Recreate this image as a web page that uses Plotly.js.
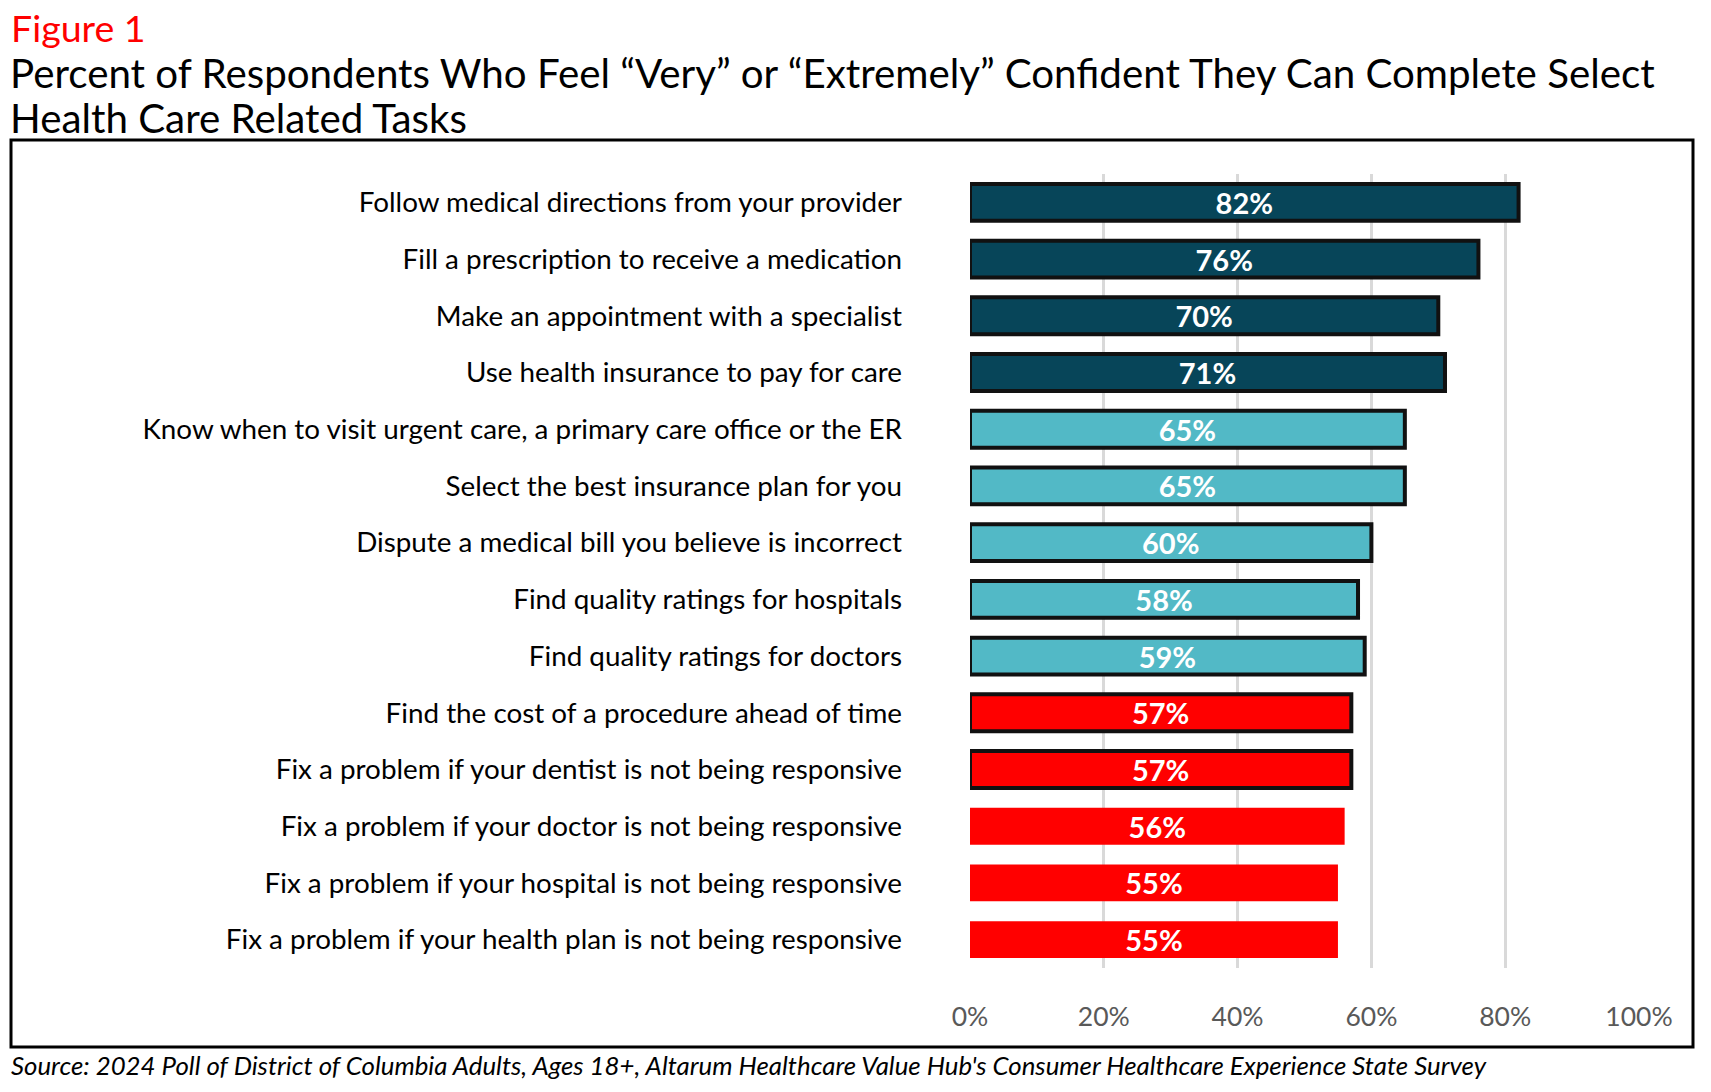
<!DOCTYPE html>
<html>
<head>
<meta charset="utf-8">
<script src="https://cdn.plot.ly/plotly-3.0.1.min.js"></script>
<style>
  html, body { margin: 0; padding: 0; background: #ffffff; }
  #chart { width: 1711px; height: 1092px; }
</style>
</head>
<body>
<div id="chart"></div>
<script>
// ---------- DATA ----------
const tasks = [
  "Follow medical directions from your provider",
  "Fill a prescription to receive a medication",
  "Make an appointment with a specialist",
  "Use health insurance to pay for care",
  "Know when to visit urgent care, a primary care office or the ER",
  "Select the best insurance plan for you",
  "Dispute a medical bill you believe is incorrect",
  "Find quality ratings for hospitals",
  "Find quality ratings for doctors",
  "Find the cost of a procedure ahead of time",
  "Fix a problem if your dentist is not being responsive",
  "Fix a problem if your doctor is not being responsive",
  "Fix a problem if your hospital is not being responsive",
  "Fix a problem if your health plan is not being responsive"
];
const percentConfident = [82, 76, 70, 71, 65, 65, 60, 58, 59, 57, 57, 56, 55, 55];
const taskGroup = ["care", "care", "care", "care",
                   "navigate", "navigate", "navigate", "navigate", "navigate",
                   "resolve", "resolve", "resolve", "resolve", "resolve"];
const xTickValues = [0, 20, 40, 60, 80, 100];
const xTickLabels = ["0%", "20%", "40%", "60%", "80%", "100%"];

const figureLabel = "Figure 1";
const titleLines = [
  "Percent of Respondents Who Feel \u201cVery\u201d or \u201cExtremely\u201d Confident They Can Complete Select",
  "Health Care Related Tasks"
];
const sourceNote = "Source: 2024 Poll of District of Columbia Adults, Ages 18+, Altarum Healthcare Value Hub's Consumer Healthcare Experience State Survey";

// ---------- STYLE ----------
const groupColors = { care: "#074559", navigate: "#52B9C6", resolve: "#FF0000" };
const outlineWidths = [4, 4, 4, 4, 4, 4, 4, 4, 4, 4, 4, 0, 0, 0];

const W = 1711, H = 1092;
const M = { l: 970, r: 72, t: 174, b: 124 };
const PW = W - M.l - M.r, PH = H - M.t - M.b;
const px = v => (v - M.l) / PW;
const py = v => 1 - (v - M.t) / PH;

const labelFont = "Lato, 'Open Sans', sans-serif";
const titleLineY = [73, 117];

const trace = {
  type: "bar",
  orientation: "h",
  y: tasks,
  x: percentConfident,
  text: percentConfident.map(v => v + "%"),
  textposition: "inside",
  insidetextanchor: "middle",
  textangle: 0,
  constraintext: "none",
  textfont: { family: labelFont, size: 29, color: "#ffffff", weight: 700 },
  marker: {
    color: taskGroup.map(g => groupColors[g]),
    line: { color: "#111111", width: outlineWidths }
  },
  hoverinfo: "skip",
  cliponaxis: false
};

const annotations = [
  {
    text: figureLabel, xref: "paper", yref: "paper",
    x: px(9), y: py(27), xanchor: "left", yanchor: "middle", showarrow: false,
    font: { family: labelFont, size: 37.5, color: "#FF0000" }
  },
  {
    text: sourceNote, xref: "paper", yref: "paper",
    x: px(9), y: py(1065), xanchor: "left", yanchor: "middle", showarrow: false,
    font: { family: labelFont, size: 25.8, color: "#000000", style: "italic" }
  }
];
titleLines.forEach((line, i) => annotations.push({
  text: line, xref: "paper", yref: "paper",
  x: px(8), y: py(titleLineY[i]), xanchor: "left", yanchor: "middle", showarrow: false,
  font: { family: labelFont, size: 40.3, color: "#000000" }
}));

const layout = {
  width: W, height: H,
  margin: M,
  paper_bgcolor: "#ffffff",
  plot_bgcolor: "#ffffff",
  showlegend: false,
  bargap: 0.35,
  font: { family: labelFont, color: "#000000" },
  xaxis: {
    range: [0, 100],
    tickvals: xTickValues,
    ticktext: xTickLabels,
    showgrid: true,
    gridcolor: "#D9D9D9",
    gridwidth: 3,
    zeroline: false,
    showline: false,
    ticks: "",
    ticklabelstandoff: 30,
    tickfont: { family: labelFont, size: 26.5, color: "#595959" },
    fixedrange: true
  },
  yaxis: {
    type: "category",
    categoryorder: "array",
    categoryarray: tasks,
    autorange: "reversed",
    showgrid: false,
    zeroline: false,
    showline: false,
    ticks: "",
    ticklabelstandoff: 67,
    tickfont: { family: labelFont, size: 27.8, color: "#000000" },
    fixedrange: true
  },
  shapes: [
    {
      type: "rect", xref: "paper", yref: "paper",
      x0: px(11), x1: px(1693), y0: py(140), y1: py(1047),
      line: { color: "#000000", width: 3 }, fillcolor: "rgba(0,0,0,0)", layer: "below"
    }
  ],
  annotations: annotations
};

Plotly.newPlot("chart", [trace], layout, { staticPlot: true, displayModeBar: false });
</script>
</body>
</html>
